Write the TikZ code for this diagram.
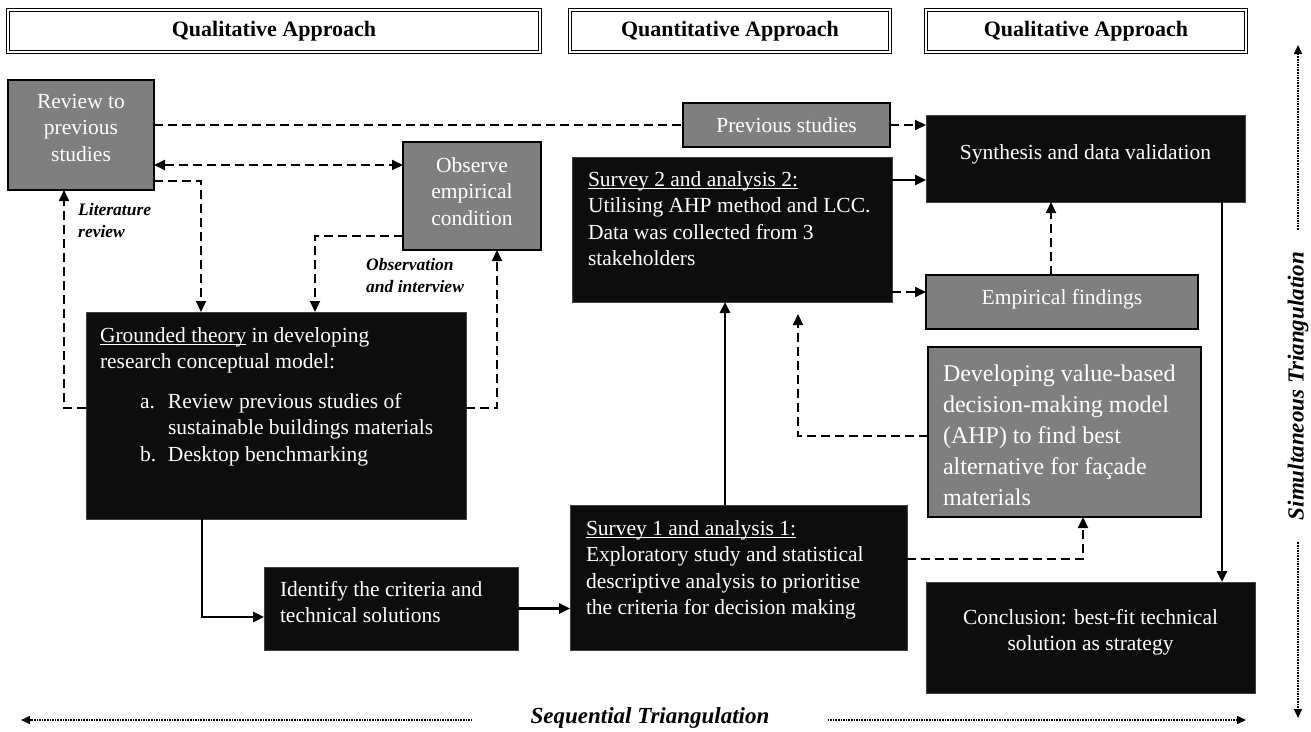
\documentclass[tikz,border=0pt]{standalone}
\usepackage{fontspec}
\setmainfont{Liberation Serif}
\usetikzlibrary{arrows.meta,calc}
\definecolor{boxblack}{HTML}{0D0D0D}
\definecolor{boxgray}{HTML}{7F7F7F}
\newlength\ulw
\newcommand\myul[1]{\settowidth\ulw{#1}\rlap{\rule[-3pt]{\ulw}{1pt}}#1}
\newcommand\txtL[5]{\parbox[c][#2][t]{#1}{\raggedright\leftskip=#3\relax\rule{0pt}{#4}#5}}
\newcommand\txtC[4]{\parbox[c][#2][t]{#1}{\centering\rule{0pt}{#3}#4}}
\begin{document}
\begin{tikzpicture}[x=1pt,y=-1pt,
  body/.style={font=\fontsize{21.5}{26.5}\selectfont},
  bbox/.style={draw=black!75, line width=0.8pt, fill=boxblack, text=white, inner sep=0pt, outer sep=0pt, anchor=north west, body},
  gbox/.style={draw=black, line width=1.6pt, fill=boxgray, text=white, inner sep=0pt, outer sep=0pt, anchor=north west, body},
  hbox/.style={draw=black, line width=1.5pt, double, double distance=1.2pt, fill=white, inner sep=0pt, outer sep=0pt, anchor=north west, font=\fontsize{22}{26}\selectfont\bfseries},
  lbl/.style={inner sep=0pt, anchor=west, align=left, font=\fontsize{17.5}{22}\selectfont\bfseries\itshape},
  tri/.style={inner sep=0pt, font=\fontsize{23}{26}\selectfont\bfseries\itshape},
  sarr/.style={line width=2.5pt, -{Triangle[length=11pt,width=10pt]}},
  darr/.style={line width=2pt, dash pattern=on 9pt off 5pt, -{Triangle[length=11pt,width=10pt]}},
  ddarr/.style={line width=2pt, dash pattern=on 9pt off 5pt, {Triangle[length=11pt,width=10pt]}-{Triangle[length=11pt,width=10pt]}},
  dline/.style={line width=2pt, dash pattern=on 9pt off 5pt},
  tarr/.style={line width=1.6pt, densely dotted, -{Triangle[length=9pt,width=8pt]}}
]
\useasboundingbox (0,0) rectangle (1311,731);

% headers
\node[hbox, minimum width=532pt, minimum height=42pt] (h1) at (8,10) {Qualitative Approach};
\node[hbox, minimum width=320pt, minimum height=42pt] (h2) at (570,10) {Quantitative Approach};
\node[hbox, minimum width=320pt, minimum height=42pt] (h3) at (926,10) {Qualitative Approach};

% boxes
\node[gbox] (rev) at (8,80) {\txtC{146pt}{110pt}{28pt}{Review to\\previous\\studies}};
\node[gbox] (obs) at (403,142) {\txtC{138pt}{108pt}{30pt}{Observe\\empirical\\condition}};
\node[bbox] (grd) at (86,312) {\txtL{380pt}{207pt}{14pt}{30pt}{\myul{Grounded theory} in developing\\research conceptual model:\\[13pt]\hspace*{40pt}\makebox[28pt][l]{a.}Review previous studies of\\\hspace*{68pt}sustainable buildings materials\\\hspace*{40pt}\makebox[28pt][l]{b.}Desktop benchmarking}};
\node[bbox] (idf) at (264,567) {\txtL{254pt}{83pt}{16pt}{29pt}{Identify the criteria and\\technical solutions}};
\node[bbox] (s1) at (570,505) {\txtL{337pt}{145pt}{16pt}{30pt}{\myul{Survey 1 and analysis 1:}\\Exploratory study and statistical\\descriptive analysis to prioritise\\the criteria for decision making}};
\node[bbox] (s2) at (572,157) {\txtL{320pt}{145pt}{16pt}{29pt}{\myul{Survey 2 and analysis 2:}\\Utilising AHP method and LCC.\\Data was collected from 3\\stakeholders}};
\node[gbox] (prev) at (683,103) {\txtC{207pt}{44pt}{29pt}{Previous studies}};
\node[bbox] (syn) at (926,115) {\txtC{319pt}{87pt}{44pt}{Synthesis and data validation}};
\node[gbox] (emp) at (926,275) {\txtC{272pt}{54pt}{29pt}{Empirical findings}};
\node[gbox, font=\fontsize{24}{31}\selectfont] (dev) at (928,347) {\txtL{273pt}{170pt}{15pt}{34pt}{Developing value-based\\decision-making model\\(AHP) to find best\\alternative for façade\\materials}};
\node[bbox] (con) at (926,582) {\txtC{329pt}{111pt}{42pt}{Conclusion: best-fit technical\\solution as strategy}};

% labels
\node[lbl] (litlbl) at (78,221) {Literature\\review};
\node[lbl] (obslbl) at (366,276) {Observation\\and interview};

% connectors
\draw[dline] (rev.east |- prev.west) -- (prev.west);
\draw[darr] (prev.east) -- (prev.east -| syn.west);
\coordinate (c1) at ($(rev.north east)+(0,85)$);
\draw[ddarr] (c1) -- (c1 -| obs.west);
\coordinate (c2) at ($(rev.north east)+(0,101)$);
\coordinate (c3) at ($(grd.north west)+(115,0)$);
\draw[darr] (c2) -| (c3);
\coordinate (c4) at ($(obs.north west)+(0,94)$);
\coordinate (c5) at ($(grd.north west)+(229,0)$);
\draw[darr] (c4) -| (c5);
\coordinate (c6) at ($(grd.north west)+(0,96)$);
\coordinate (c7) at ($(rev.south west)+(56,0)$);
\draw[darr] (c6) -| (c7);
\coordinate (c8) at ($(grd.north east)+(0,96)$);
\coordinate (c9) at ($(obs.south west)+(94,0)$);
\draw[darr] (c8) -| (c9);
\coordinate (c10) at ($(grd.south west)+(116,0)$);
\coordinate (c11) at ($(idf.north west)+(0,50)$);
\draw[sarr] (c10) |- (c11);
\draw[sarr] (idf.east) -- (idf.east -| s1.west);
\coordinate (c12) at ($(s1.north west)+(155,0)$);
\draw[sarr] (c12) -- (c12 |- s2.south);
\coordinate (c13) at ($(s2.north east)+(0,23)$);
\draw[sarr] (c13) -- (c13 -| syn.west);
\coordinate (c14) at ($(s2.north east)+(0,135)$);
\draw[darr] (c14) -- (c14 -| emp.west);
\coordinate (c15) at ($(emp.north west)+(125,0)$);
\draw[darr] (c15) -- (c15 |- syn.south);
\coordinate (c16) at ($(syn.south east)+(-23,0)$);
\draw[sarr] (c16) -- (c16 |- con.north);
\coordinate (c17) at ($(dev.north west)+(0,89)$);
\coordinate (c18) at ($(s2.south west)+(226,0)$);
\draw[darr, shorten >=12pt] (c17) -| (c18);
\coordinate (c19) at ($(s1.north east)+(0,54)$);
\coordinate (c20) at ($(dev.south west)+(155,0)$);
\draw[darr] (c19) -| (c20);

% triangulation
\node[tri] (seq) at (650,718) {Sequential Triangulation};
\coordinate (sl) at (21,720);
\coordinate (sr) at (1246,720);
\draw[tarr] ($(seq.west)+(-58,2)$) -- (sl);
\draw[tarr] ($(seq.east)+(58,2)$) -- (sr);
\node[tri, rotate=90] (sim) at (1298,386) {Simultaneous Triangulation};
\coordinate (vt) at (1298,45);
\coordinate (vb) at (1298,718);
\draw[tarr] ($(sim.east)+(0,-22)$) -- (vt);
\draw[tarr] ($(sim.west)+(0,22)$) -- (vb);
\end{tikzpicture}
\end{document}
